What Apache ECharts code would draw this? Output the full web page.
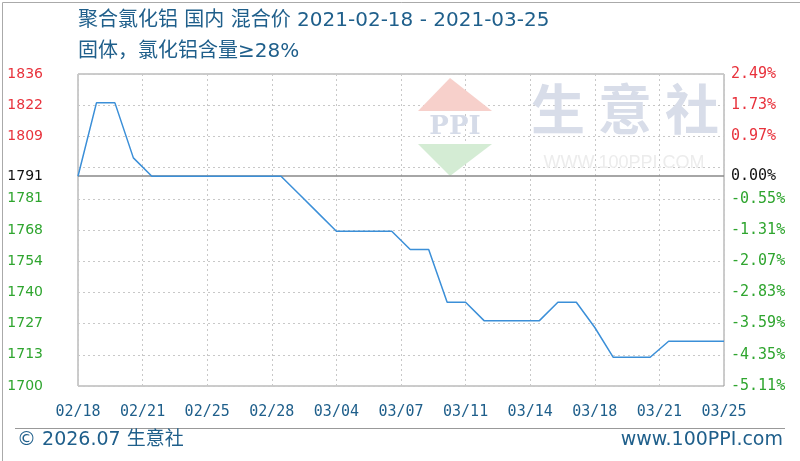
<!DOCTYPE html>
<html><head><meta charset="utf-8">
<script src="https://cdn.jsdelivr.net/npm/echarts@6/dist/echarts.min.js"></script>
<style>html,body{margin:0;padding:0;background:#fff}#c{width:800px;height:461px}</style>
</head><body><div id="c"></div>
<script>
const titleLine1 = '聚合氯化铝 国内 混合价 2021-02-18 - 2021-03-25';
const titleLine2 = '固体，氯化铝含量≥28%';
const footerLeft = '© 2026.07 生意社';
const footerRight = 'www.100PPI.com';
const basePrice = 1791;
const dates = ['2021-02-18','2021-02-19','2021-02-20','2021-02-21','2021-02-22','2021-02-23','2021-02-24','2021-02-25','2021-02-26','2021-02-27','2021-02-28',
 '2021-03-01','2021-03-02','2021-03-03','2021-03-04','2021-03-05','2021-03-06','2021-03-07','2021-03-08','2021-03-09','2021-03-10','2021-03-11','2021-03-12',
 '2021-03-13','2021-03-14','2021-03-15','2021-03-16','2021-03-17','2021-03-18','2021-03-19','2021-03-20','2021-03-21','2021-03-22','2021-03-23','2021-03-24','2021-03-25'];
const prices = [1791,1823,1823,1799,1791,1791,1791,1791,1791,1791,1791,
 1791,1783,1775,1767,1767,1767,1767,1759,1759,1736,1736,1728,
 1728,1728,1728,1736,1736,1725,1712,1712,1712,1719,1719,1719,1719];
const pctTicks = [-5.11,-4.35,-3.59,-2.83,-2.07,-1.31,-0.55,0,0.97,1.73,2.49];
const priceTickLabels = ['1700','1713','1727','1740','1754','1768','1781','1791','1809','1822','1836'];
const pctTickLabels = ['-5.11%','-4.35%','-3.59%','-2.83%','-2.07%','-1.31%','-0.55%','0.00%','0.97%','1.73%','2.49%'];
const pctMin = -5.11, pctMax = 2.49, pctStep = 0.76;
const xStepDays = 3.5;

const DAY = 86400000;
const t0 = Date.parse(dates[0] + 'T00:00:00Z');
const dayIdx = dates.map(d => Math.round((Date.parse(d + 'T00:00:00Z') - t0) / DAY));
const seriesData = prices.map((p, i) => [dayIdx[i], (p / basePrice - 1) * 100]);
const lastDay = dayIdx[dayIdx.length - 1];

function fmtDate(v) {
  const d = new Date(t0 + Math.floor(v + 1e-6) * DAY);
  const mm = String(d.getUTCMonth() + 1).padStart(2, '0');
  const dd = String(d.getUTCDate()).padStart(2, '0');
  return mm + '/' + dd;
}
function tickIdx(v) { let b = 0; pctTicks.forEach((t, i) => { if (Math.abs(t - v) < Math.abs(pctTicks[b] - v)) b = i; }); return b; }
function cls(v) { return Math.abs(v) < 1e-6 ? 'k' : (v > 0 ? 'r' : 'g'); }
const RED = '#e8323c', GREEN = '#2fa52f', BLACK = '#111';
const rich = (fam, size) => ({
  r: {color: RED, fontFamily: fam, fontSize: size},
  g: {color: GREEN, fontFamily: fam, fontSize: size},
  k: {color: BLACK, fontFamily: fam, fontSize: size}
});
const BLUE_TXT = '#1f5f8b';
const TXT_FONT = '"DejaVu Sans", "Noto Sans CJK SC", sans-serif';

const chart = echarts.init(document.getElementById('c'), null, {renderer: 'canvas'});
chart.setOption({
  animation: false,
  backgroundColor: '#fff',
  grid: {left: 78, right: 76, top: 74, bottom: 75, show: true, borderColor: '#999', borderWidth: 1, backgroundColor: 'transparent'},
  graphic: [
    {type: 'rect', left: 0, top: 0, shape: {x: 0.5, y: 0.5, width: 799, height: 460}, style: {fill: 'none', stroke: '#aaa', lineWidth: 1}, z: 0},
    {type: 'line', shape: {x1: 15, y1: 428.5, x2: 785, y2: 428.5}, style: {stroke: '#999', lineWidth: 1}},
    {type: 'text', x: 78, y: 21, style: {text: titleLine1, fill: BLUE_TXT, font: '20px ' + TXT_FONT, textVerticalAlign: 'middle'}},
    {type: 'text', x: 78, y: 52, style: {text: titleLine2, fill: BLUE_TXT, font: '20px ' + TXT_FONT, textVerticalAlign: 'middle'}},
    {type: 'text', x: 17, y: 440, style: {text: footerLeft, fill: BLUE_TXT, font: '19px ' + TXT_FONT, textVerticalAlign: 'middle'}},
    {type: 'text', x: 783, y: 440, style: {text: footerRight, fill: BLUE_TXT, font: '19px ' + TXT_FONT, textAlign: 'right', textVerticalAlign: 'middle'}},
    // watermark logo
    {type: 'polygon', shape: {points: [[450,78],[418,111],[492,111]]}, style: {fill: '#f7d0cb'}, z: 1, silent: true},
    {type: 'polygon', shape: {points: [[418,144],[492,144],[450,176]]}, style: {fill: '#d4ecd4'}, z: 1, silent: true},
    {type: 'text', x: 455, y: 127, style: {text: 'PPI', fill: '#d5dbe8', font: 'bold 26px "DejaVu Serif", serif', textAlign: 'center', textVerticalAlign: 'middle'}, z: 1, silent: true},
    {type: 'text', x: 558, y: 109, style: {text: '生', fill: '#d8dde9', font: 'bold 54px "Noto Sans CJK SC", sans-serif', textAlign: 'center', textVerticalAlign: 'middle'}, z: 1, silent: true},
    {type: 'text', x: 625, y: 109, style: {text: '意', fill: '#d8dde9', font: 'bold 54px "Noto Sans CJK SC", sans-serif', textAlign: 'center', textVerticalAlign: 'middle'}, z: 1, silent: true},
    {type: 'text', x: 692, y: 109, style: {text: '社', fill: '#d8dde9', font: 'bold 54px "Noto Sans CJK SC", sans-serif', textAlign: 'center', textVerticalAlign: 'middle'}, z: 1, silent: true},
    {type: 'text', x: 624, y: 163, style: {text: 'WWW.100PPI.COM', fill: '#ececec', font: '18px "Liberation Sans", sans-serif', textAlign: 'center', textVerticalAlign: 'middle'}, z: 1, silent: true}
  ],
  xAxis: {
    type: 'value', min: 0, max: lastDay, interval: xStepDays,
    axisLine: {show: false}, axisTick: {show: false},
    axisLabel: {margin: 19, color: BLUE_TXT, fontFamily: '"DejaVu Sans Mono", monospace', fontSize: 15, formatter: fmtDate, showMinLabel: true, showMaxLabel: true},
    splitLine: {show: true, lineStyle: {color: '#c8c8c8', type: [2, 3], width: 1}}
  },
  yAxis: [
    {
      type: 'value', position: 'left', min: pctMin, max: pctMax, interval: pctStep,
      axisLine: {show: false}, axisTick: {show: false},
      axisLabel: {
        customValues: pctTicks, margin: 35, fontFamily: '"DejaVu Sans", sans-serif', fontSize: 14,
        formatter: v => '{' + cls(v) + '|' + priceTickLabels[tickIdx(v)] + '}',
        rich: rich('"DejaVu Sans", sans-serif', 14)
      },
      splitLine: {show: true, lineStyle: {color: '#c8c8c8', type: [2, 3], width: 1}}
    },
    {
      type: 'value', position: 'right', min: pctMin, max: pctMax, interval: pctStep,
      axisLine: {show: false}, axisTick: {show: false},
      axisLabel: {
        customValues: pctTicks, margin: 7, fontFamily: '"DejaVu Sans Mono", monospace', fontSize: 15,
        formatter: v => '{' + cls(v) + '|' + pctTickLabels[tickIdx(v)] + '}',
        rich: rich('"DejaVu Sans Mono", monospace', 15)
      },
      splitLine: {show: false}
    }
  ],
  series: [{
    type: 'line', yAxisIndex: 0, data: seriesData, showSymbol: false, symbol: 'none',
    lineStyle: {color: '#3b8fd8', width: 1.5}, z: 5,
    markLine: {silent: true, symbol: 'none', label: {show: false},
      lineStyle: {color: '#888', type: 'solid', width: 1.5},
      data: [{yAxis: 0}]}
  }]
});
</script></body></html>
